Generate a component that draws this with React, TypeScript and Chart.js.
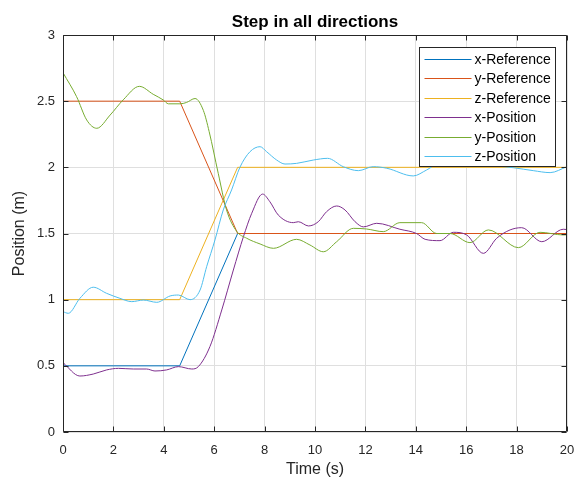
import React, { useEffect, useRef } from 'react';
import { Chart, registerables } from 'chart.js';

Chart.register(...registerables);

const FONT = '"Liberation Sans", Arial, Helvetica, sans-serif';
const INK = '#262626';

const titleText = 'Step in all directions';
const xLabel = 'Time (s)';
const yLabel = 'Position (m)';

const seriesNames = ['x-Reference', 'y-Reference', 'z-Reference', 'x-Position', 'y-Position', 'z-Position'];
const seriesColors = ['#0072BD', '#D95319', '#EDB120', '#7E2F8E', '#77AC30', '#4DBEEE'];

const xTicks = [0, 2, 4, 6, 8, 10, 12, 14, 16, 18, 20];
const yTicks = [0, 0.5, 1, 1.5, 2, 2.5, 3];

const refTimes = [0, 4.63, 6.93, 20];
const xRefValues = [0.5, 0.5, 1.5, 1.5];
const yRefValues = [2.5, 2.5, 1.5, 1.5];
const zRefValues = [1, 1, 2, 2];

const xPosTimes = [0, 0.67, 1.2, 1.73, 2.2, 2.79, 3.32, 3.65, 4.11, 4.58, 5.11, 5.37, 5.83, 6.3, 6.76, 7.16, 7.49, 7.92, 8.21, 8.54, 9.14, 9.34, 9.74, 10.13, 10.46, 10.86, 11.19, 11.59, 11.92, 12.45, 13.37, 14.03, 14.37, 14.96, 15.49, 16.02, 16.68, 17.21, 17.74, 18.2, 19.0, 19.85, 20];
const xPosValues = [0.524, 0.423, 0.438, 0.469, 0.481, 0.476, 0.476, 0.461, 0.469, 0.494, 0.476, 0.494, 0.645, 0.922, 1.224, 1.476, 1.653, 1.798, 1.74, 1.64, 1.582, 1.589, 1.557, 1.589, 1.665, 1.708, 1.678, 1.589, 1.55, 1.577, 1.532, 1.5, 1.456, 1.446, 1.509, 1.489, 1.35, 1.464, 1.527, 1.544, 1.438, 1.532, 1.53];

const yPosTimes = [0, 0.54, 0.94, 1.34, 1.87, 2.39, 3.03, 3.58, 3.98, 4.18, 4.64, 4.9, 5.24, 5.57, 5.8, 6.16, 6.49, 6.89, 7.29, 7.82, 8.35, 9.27, 9.8, 10.33, 10.86, 11.52, 12.05, 12.71, 13.37, 14.23, 14.83, 15.36, 16.15, 16.88, 18.07, 18.93, 19.85, 20];
const yPosValues = [2.715, 2.534, 2.358, 2.295, 2.395, 2.51, 2.612, 2.552, 2.509, 2.48, 2.48, 2.49, 2.52, 2.43, 2.27, 1.955, 1.678, 1.517, 1.464, 1.421, 1.388, 1.456, 1.413, 1.362, 1.438, 1.539, 1.534, 1.514, 1.582, 1.582, 1.5, 1.5, 1.431, 1.527, 1.393, 1.509, 1.489, 1.49];

const zPosTimes = [0, 0.21, 0.67, 1.2, 1.73, 2.26, 2.73, 3.19, 3.72, 4.25, 4.58, 5.04, 5.44, 5.7, 6.03, 6.36, 6.69, 7.02, 7.42, 7.82, 8.08, 8.48, 8.81, 9.27, 9.93, 10.5, 11.12, 11.72, 12.31, 12.85, 13.9, 14.43, 14.83, 15.6, 16.5, 17.3, 17.87, 18.66, 19.33, 20];
const zPosValues = [0.909, 0.897, 1.01, 1.094, 1.048, 1.01, 0.985, 0.997, 0.98, 1.028, 1.035, 1.0, 1.073, 1.249, 1.451, 1.678, 1.829, 2.0, 2.118, 2.156, 2.118, 2.055, 2.025, 2.03, 2.055, 2.068, 2.005, 1.975, 2.005, 1.993, 1.935, 1.98, 2.018, 2.01, 2.012, 2.008, 1.997, 1.975, 1.96, 2.005];

const toPoints = (ts: number[], vs: number[]) => ts.map((t, i) => ({ x: t, y: vs[i] }));

const framePlugin = {
  id: 'matlabFrame',
  afterDatasetsDraw(chart: any) {
    const { ctx, chartArea: a, scales } = chart;
    const L = Math.round(a.left) + 0.5;
    const R = Math.round(a.right) - 0.5;
    const T = Math.round(a.top) + 0.5;
    const B = Math.round(a.bottom) - 0.5;
    ctx.save();
    ctx.strokeStyle = INK;
    ctx.lineWidth = 1;
    ctx.beginPath();
    ctx.rect(L, T, R - L, B - T);
    ctx.stroke();
    const tl = 5;
    ctx.beginPath();
    xTicks.forEach((v) => {
      const px = Math.round(scales.x.getPixelForValue(v)) + 0.5;
      ctx.moveTo(px, B);
      ctx.lineTo(px, B - tl);
      ctx.moveTo(px, T);
      ctx.lineTo(px, T + tl);
    });
    yTicks.forEach((v) => {
      const py = Math.round(scales.y.getPixelForValue(v)) + 0.5;
      ctx.moveTo(L, py);
      ctx.lineTo(L + tl, py);
      ctx.moveTo(R, py);
      ctx.lineTo(R - tl, py);
    });
    ctx.stroke();
    ctx.restore();
  },
  afterDraw(chart: any) {
    const { ctx, chartArea: a } = chart;
    ctx.save();
    ctx.fillStyle = '#000000';
    ctx.font = `bold 17px ${FONT}`;
    ctx.textAlign = 'center';
    ctx.textBaseline = 'alphabetic';
    ctx.fillText(titleText, (a.left + a.right) / 2, 27);
    const w = 136;
    const h = 119;
    const bx = Math.round(a.right - 12 - w) + 0.5;
    const by = Math.round(a.top + 12) + 0.5;
    ctx.fillStyle = '#ffffff';
    ctx.fillRect(bx, by, w, h);
    ctx.strokeStyle = INK;
    ctx.lineWidth = 1;
    ctx.strokeRect(bx, by, w, h);
    ctx.font = `14px ${FONT}`;
    ctx.textAlign = 'left';
    ctx.textBaseline = 'middle';
    seriesNames.forEach((name, i) => {
      const cy = Math.round(by + 11.5 + i * 19.4) + 0.5;
      ctx.strokeStyle = seriesColors[i];
      ctx.beginPath();
      ctx.moveTo(bx + 5, cy);
      ctx.lineTo(bx + 52, cy);
      ctx.stroke();
      ctx.fillStyle = '#000000';
      ctx.fillText(name, bx + 55, cy + 1);
    });
    ctx.restore();
  },
};

export default function App() {
  const ref = useRef<HTMLCanvasElement | null>(null);
  useEffect(() => {
    document.body.style.margin = '0';
    const canvas = ref.current;
    if (!canvas) return;
    const datasetsData = [
      toPoints(refTimes, xRefValues),
      toPoints(refTimes, yRefValues),
      toPoints(refTimes, zRefValues),
      toPoints(xPosTimes, xPosValues),
      toPoints(yPosTimes, yPosValues),
      toPoints(zPosTimes, zPosValues),
    ];
    const chart = new Chart(canvas, {
      type: 'line',
      data: {
        datasets: datasetsData.map((d, i) => ({
          label: seriesNames[i],
          data: d,
          borderColor: seriesColors[i],
          backgroundColor: seriesColors[i],
          borderWidth: 1,
          pointRadius: 0,
          fill: false,
          tension: i < 3 ? 0 : 0.4,
          cubicInterpolationMode: i < 3 ? 'default' : 'monotone',
          order: 6 - i,
        })),
      },
      options: {
        responsive: false,
        animation: false,
        events: [],
        layout: { padding: { top: 35, right: 9, left: 0, bottom: 0 } },
        plugins: {
          legend: { display: false },
          title: { display: false },
          tooltip: { enabled: false },
        },
        scales: {
          x: {
            type: 'linear',
            min: 0,
            max: 20,
            afterBuildTicks: (s: any) => {
              s.ticks = xTicks.map((v) => ({ value: v }));
            },
            afterFit: (s: any) => {
              s.height = 46;
              s.paddingLeft = 0;
              s.paddingRight = 0;
            },
            grid: { color: '#dfdfdf', lineWidth: 1, drawTicks: false },
            border: { display: false },
            ticks: {
              padding: 11,
              color: INK,
              font: { family: FONT, size: 13 },
              maxRotation: 0,
              autoSkip: false,
              callback: (v: any) => String(v),
            },
            title: {
              display: true,
              text: xLabel,
              color: INK,
              font: { family: FONT, size: 16, lineHeight: 1 },
              padding: { top: 0, bottom: 0 },
            },
          },
          y: {
            type: 'linear',
            min: 0,
            max: 3,
            afterBuildTicks: (s: any) => {
              s.ticks = yTicks.map((v) => ({ value: v }));
            },
            afterFit: (s: any) => {
              s.width = 63;
              s.paddingTop = 0;
              s.paddingBottom = 0;
            },
            grid: { color: '#dfdfdf', lineWidth: 1, drawTicks: false },
            border: { display: false },
            ticks: {
              padding: 8,
              color: INK,
              font: { family: FONT, size: 13 },
              autoSkip: false,
              callback: (v: any) => String(v),
            },
            title: {
              display: true,
              text: yLabel,
              color: INK,
              font: { family: FONT, size: 16, lineHeight: 1 },
              padding: { top: 12, bottom: 0 },
            },
          },
        },
      },
      plugins: [framePlugin],
    } as any);
    return () => chart.destroy();
  }, []);
  return (
    <div style={{ width: 576, height: 478 }}>
      <canvas ref={ref} width={576} height={478} style={{ display: 'block' }} />
    </div>
  );
}
